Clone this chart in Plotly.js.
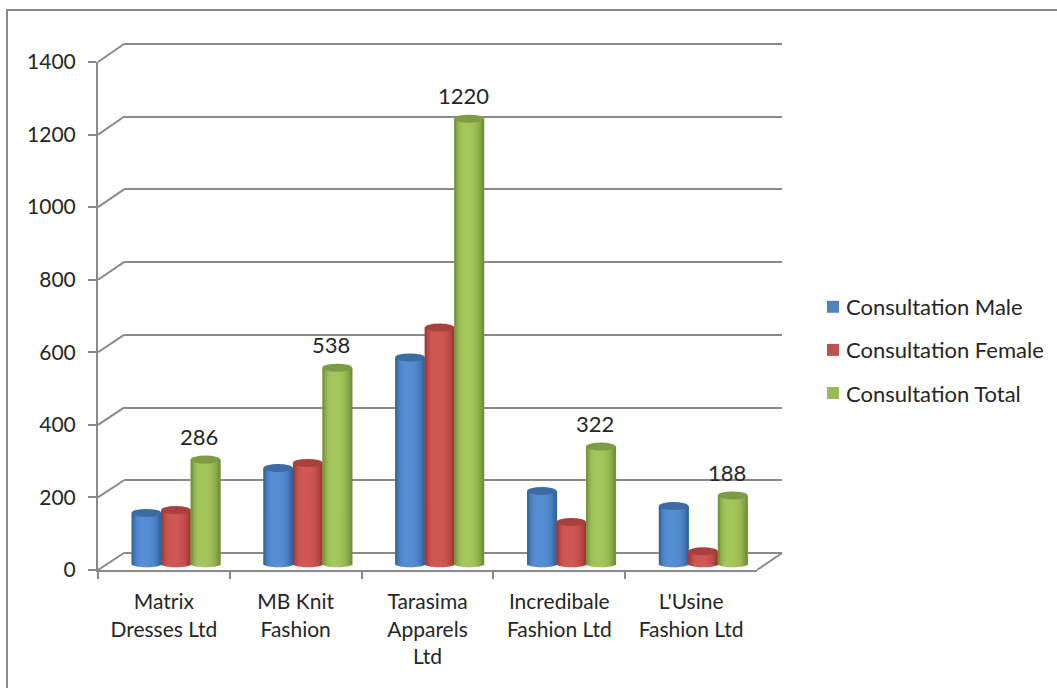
<!DOCTYPE html>
<html>
<head>
<meta charset="utf-8">
<script src="https://cdn.plot.ly/plotly-3.0.1.min.js"></script>
<style>html,body{margin:0;padding:0;background:#fff}#chart{width:1057px;height:688px}</style>
</head>
<body>
<div id="chart"></div>
<script>
const categories = ["Matrix<br>Dresses Ltd", "MB Knit<br>Fashion", "Tarasima<br>Apparels<br>Ltd", "Incredibale<br>Fashion Ltd", "L'Usine<br>Fashion Ltd"];
const seriesNames = ["Consultation Male", "Consultation Female", "Consultation Total"];
const male = [140, 263, 566, 200, 159];
const female = [148, 277, 648, 115, 35];
const total = [286, 538, 1220, 322, 188];
const seriesValues = [male, female, total];
const yTicks = [0, 200, 400, 600, 800, 1000, 1200, 1400];
const baseColors = ["#4f81bd", "#c0504d", "#9bbb59"];
const edgeColors = [[44, 92, 148], [150, 48, 46], [104, 134, 52]];
const lightColors = [[86, 142, 212], [208, 88, 84], [164, 198, 92]];
const capColors = ["#3b6ca4", "#a8403d", "#7e9c45"];

const W = 1057, H = 688;
const fx = p => p / W, fy = p => 1 - p / H;
const FONT = "Lato, Carlito, Calibri, sans-serif";
const TEXT = "#262626", LINE = "#8a8a8a";
const BAR_W = 29.5 / 131.8, STRIPS = 14;
const K = 511 / 1400;
const GRID_K = 509 / 1400;

const traces = [];
// carriers for the front axes and back-wall grid
traces.push({type: "scatter", x: categories, y: categories.map(() => 0), xaxis: "x", yaxis: "y", mode: "lines", opacity: 0, showlegend: false, hoverinfo: "skip"});
traces.push({type: "scatter", x: categories, y: categories.map(() => 0), xaxis: "x2", yaxis: "y2", mode: "lines", opacity: 0, showlegend: false, hoverinfo: "skip"});

const shapes = [];
seriesValues.forEach((vals, s) => {
  const centre = (s - 1) * BAR_W;
  traces.push({
    type: "bar", name: seriesNames[s], x: categories, y: vals, xaxis: "x3", yaxis: "y3",
    width: BAR_W, offset: centre - BAR_W / 2,
    marker: {color: baseColors[s], line: {width: 0}},
    legendgroup: seriesNames[s], hoverinfo: "name+y"
  });
  for (let k = 0; k < STRIPS; k++) {
    const u = -1 + (2 * k + 1) / STRIPS;
    const d = Math.min(1, Math.abs(u + 0.2) / (u < -0.2 ? 0.8 : 1.2));
    const m = 1 - d * d * d;
    const col = edgeColors[s].map((e, i) => Math.round(e + (lightColors[s][i] - e) * m));
    const sw = BAR_W / STRIPS;
    const drop = 3.2 / K * Math.sqrt(Math.max(0, 1 - u * u));
    traces.push({
      type: "bar", x: categories, y: vals.map(v => v + drop), base: vals.map(() => -drop),
      xaxis: "x3", yaxis: "y3",
      width: sw * 1.25, offset: centre + u * BAR_W / 2 - sw / 2,
      marker: {color: "rgb(" + col.join(",") + ")", line: {width: 0}},
      showlegend: false, hoverinfo: "skip"
    });
  }
  vals.forEach((v, i) => {
    shapes.push({
      type: "circle", layer: "above", xref: "x3", yref: "y3",
      xsizemode: "pixel", ysizemode: "pixel", xanchor: i + centre, yanchor: v,
      x0: -14.75, x1: 14.75, y0: -4, y1: 4,
      fillcolor: capColors[s], line: {width: 0}
    });
  });
});

// slanted wall joins, right floor edge and the outer frame
yTicks.forEach(t => {
  shapes.push({type: "line", xref: "paper", yref: "paper", x0: fx(98), x1: fx(124), y0: fy(570 - t * 508 / 1400), y1: fy(553 - t * GRID_K), line: {color: LINE, width: 2}, layer: "below"});
});
shapes.push({type: "line", xref: "paper", yref: "paper", x0: fx(757), x1: fx(782), y0: fy(570), y1: fy(553), line: {color: LINE, width: 2}, layer: "below"});
shapes.push({type: "path", xref: "paper", yref: "paper", path: `M ${fx(7)} 0 L ${fx(7)} ${fy(10)} L 1 ${fy(10)}`, line: {color: LINE, width: 2}, layer: "below"});

const annotations = total.map((v, i) => ({
  xref: "x3", yref: "y3", x: i + BAR_W, y: v, text: String(v), showarrow: false,
  xshift: -6, yshift: 23, xanchor: "center", yanchor: "middle",
  font: {family: FONT, size: 22, color: TEXT}
}));

const layout = {
  width: W, height: H, margin: {l: 0, r: 0, t: 0, b: 0, pad: 0},
  paper_bgcolor: "#fff", plot_bgcolor: "rgba(0,0,0,0)",
  barmode: "overlay", font: {family: FONT, size: 21, color: TEXT},
  xaxis: {domain: [fx(98), fx(757)], type: "category", categoryorder: "array", categoryarray: categories, range: [-0.5, 4.5], anchor: "y",
    tickson: "boundaries", ticks: "outside", ticklen: 7, tickwidth: 2, tickcolor: LINE, showline: true, linecolor: LINE, linewidth: 2, showgrid: false, zeroline: false,
    tickangle: 0, ticklabelstandoff: 12, tickfont: {family: FONT, size: 21, color: TEXT}},
  yaxis: {domain: [fy(570), fy(62)], range: [0, 1400], tickvals: yTicks, anchor: "x", ticks: "outside", ticklen: 8, tickwidth: 2, tickcolor: LINE, showline: true, linecolor: LINE, linewidth: 2, showgrid: false, zeroline: false,
    ticklabelstandoff: 8, tickfont: {family: FONT, size: 21, color: TEXT}},
  xaxis2: {domain: [fx(124), fx(782)], type: "category", categoryorder: "array", categoryarray: categories, range: [-0.5, 4.5], anchor: "y2", visible: false},
  yaxis2: {domain: [fy(553), fy(553 - 1420 * GRID_K)], range: [0, 1420], tickvals: yTicks, anchor: "x2", showgrid: true, gridcolor: LINE, gridwidth: 2, zeroline: true, zerolinecolor: LINE, zerolinewidth: 2, showticklabels: false, ticks: "", showline: false},
  xaxis3: {domain: [fx(110), fx(769)], type: "category", categoryorder: "array", categoryarray: categories, range: [-0.5, 4.5], anchor: "y3", visible: false},
  yaxis3: {domain: [fy(564 + 40 * K), fy(53)], range: [-40, 1400], anchor: "x3", visible: false},
  showlegend: true,
  legend: {x: fx(813), xanchor: "left", y: fy(286), yanchor: "top", bgcolor: "rgba(0,0,0,0)", borderwidth: 0, traceorder: "grouped", tracegroupgap: 11.5, itemwidth: 30, indentation: -7,
    font: {family: FONT, size: 22, color: TEXT}},
  shapes, annotations
};
traces.forEach(t => { if (t.type === "bar") t.cliponaxis = false; });
Plotly.newPlot("chart", traces, layout, {displayModeBar: false, responsive: false}).then(() => {
  document.querySelectorAll("#chart .legend .legendpoints").forEach(g => g.setAttribute("transform", "translate(7,0)"));
});
</script>
</body>
</html>
